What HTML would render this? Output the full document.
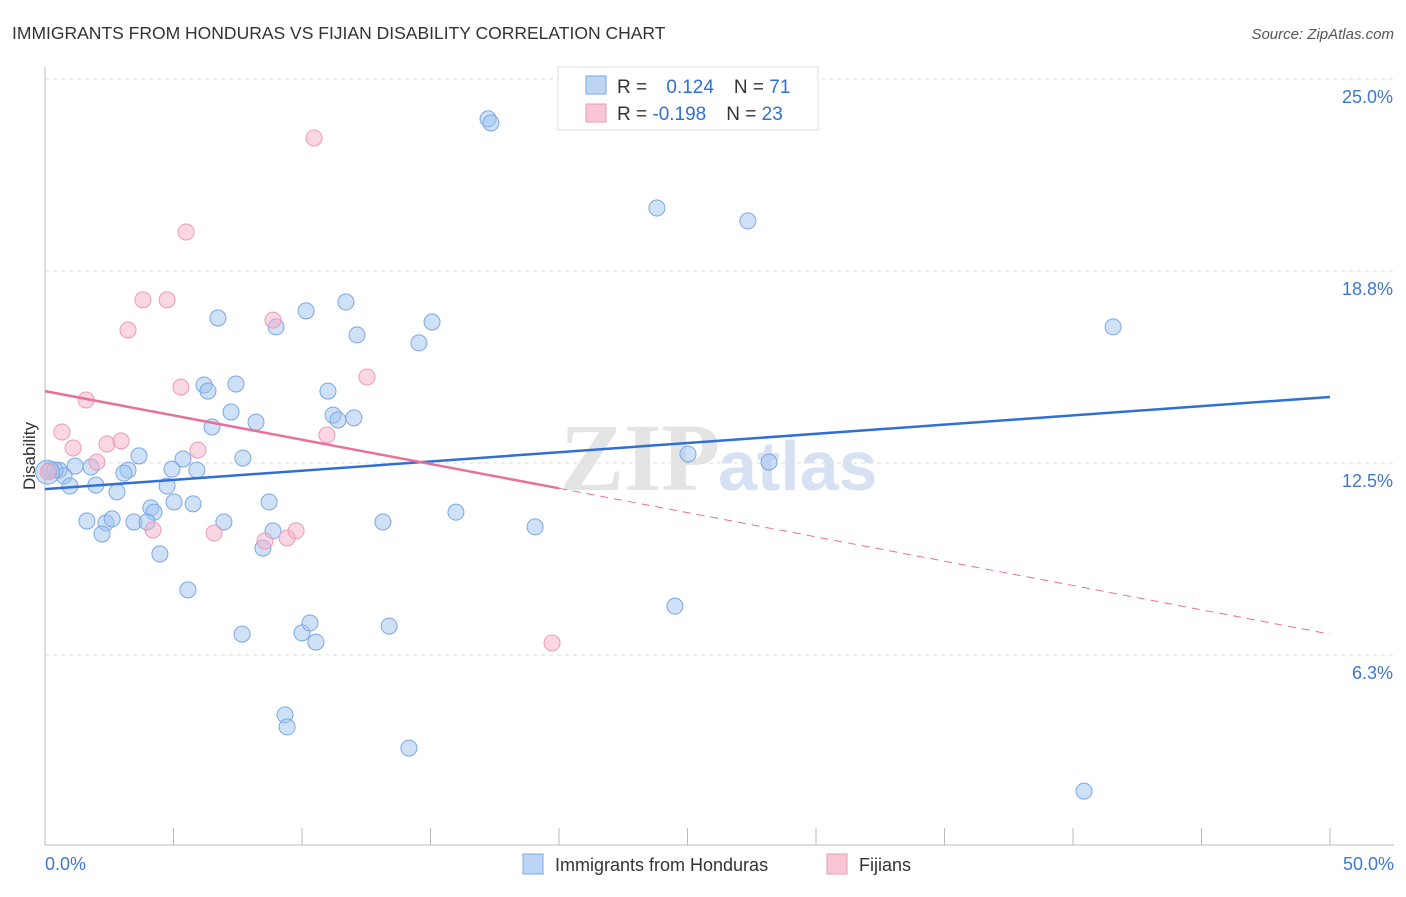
<!DOCTYPE html>
<html><head><meta charset="utf-8"><style>
body{margin:0;background:#fff;font-family:"Liberation Sans",sans-serif;}
</style></head><body>
<svg width="1406" height="892" xmlns="http://www.w3.org/2000/svg" id="chart">
<text x="12" y="39" font-size="17.5" fill="#333">IMMIGRANTS FROM HONDURAS VS FIJIAN DISABILITY CORRELATION CHART</text>
<text x="1394" y="39" font-size="15" fill="#555" font-style="italic" text-anchor="end">Source: ZipAtlas.com</text>
<text x="720" y="490" font-size="96" fill="#e4e4e4" text-anchor="end" font-family="Liberation Serif" font-weight="bold">ZIP</text>
<text x="718" y="490" font-size="70" fill="#d6e2f3" font-weight="bold">atlas</text>
<g id="grid"></g><g id="axes"></g><g id="marks"></g>
<text x="35" y="456" font-size="17" fill="#333" text-anchor="middle" transform="rotate(-90 35 456)">Disability</text>
<g>
<rect x="558" y="67" width="260" height="63" fill="#fff" stroke="#ddd"/>
<rect x="586" y="76" width="20" height="18" fill="#bcd5f5" stroke="#7aa7e6"/>
<rect x="586" y="104" width="20" height="18" fill="#f9c6d6" stroke="#eb9ab5"/>
<text x="617" y="93" font-size="19" fill="#333">R = <tspan fill="#2f6fd6" dx="14">0.124</tspan><tspan dx="20" fill="#333">N = </tspan><tspan fill="#2f6fd6">71</tspan></text>
<text x="617" y="120" font-size="19" fill="#333">R = <tspan fill="#2f6fd6">-0.198</tspan><tspan dx="20" fill="#333">N = </tspan><tspan fill="#2f6fd6">23</tspan></text>
</g>
<g>
<rect x="523" y="854" width="20" height="20" fill="#bcd5f5" stroke="#7aa7e6"/>
<text x="555" y="871" font-size="18" fill="#333">Immigrants from Honduras</text>
<rect x="827" y="854" width="20" height="20" fill="#f9c6d6" stroke="#eb9ab5"/>
<text x="859" y="871" font-size="18" fill="#333">Fijians</text>
</g>
</svg>
<script>
const yTicks=[25.0,18.8,12.5,6.3];
const yTickVals=[25,18.75,12.5,6.25];
const xTickLabels=["0.0%","50.0%"];
const blueX=[17.24,17.35,23.81,27.35,41.56,6.73,8.99,10.16,11.71,12.14,15.06,14.55,6.19,6.34,7.43,11.01,7.24,8.21,6.50,11.21,11.40,12.02,3.66,5.37,7.70,4.94,5.91,3.23,3.07,1.79,1.17,0.54,0.19,0.74,0.97,1.98,2.80,4.75,5.02,5.76,8.72,4.12,4.24,1.63,2.37,2.61,3.46,3.97,6.96,13.15,15.99,19.07,2.22,8.87,8.48,4.47,5.56,7.67,10.00,10.31,10.54,13.39,24.51,25.02,28.17,9.34,9.42,14.16,40.43,0.39,0.1];
const blueY=[23.70,23.57,20.80,20.38,16.93,17.22,16.93,17.45,17.74,16.67,17.09,16.41,15.04,14.84,15.07,14.84,14.16,13.83,13.67,14.06,13.90,13.97,12.73,12.63,12.66,12.30,12.27,12.27,12.17,12.37,12.40,12.27,12.27,12.08,11.75,11.78,11.56,11.75,11.23,11.17,11.23,11.04,10.90,10.61,10.55,10.68,10.58,10.58,10.58,10.58,10.90,10.42,10.19,10.29,9.73,9.54,8.37,6.93,6.97,7.29,6.67,7.19,7.84,12.79,12.53,4.30,3.91,3.22,1.82,12.27,12.2];
const pinkX=[10.47,5.49,3.81,4.75,3.23,8.87,12.53,5.29,1.60,0.66,1.09,2.41,2.96,5.95,10.97,2.02,0.12,4.20,6.58,8.56,9.42,9.77,19.73];
const pinkY=[23.08,20.02,17.81,17.81,16.83,17.15,15.30,14.97,14.55,13.51,12.99,13.12,13.22,12.92,13.41,12.53,12.21,10.32,10.22,9.96,10.06,10.29,6.64];
const blueTrend=[11.65,14.65];
const pinkTrend=[14.84,6.93];
const pinkSolidEnd=20;
const NS="http://www.w3.org/2000/svg";
const xs=v=>45+v*25.7, ys=v=>79+(25-v)*30.72;
function mk(p,tag,a){const e=document.createElementNS(NS,tag);for(const k in a)e.setAttribute(k,a[k]);p.appendChild(e);return e;}
const g=document.getElementById('grid'),ax=document.getElementById('axes'),m=document.getElementById('marks');
yTickVals.forEach((v,i)=>{
 const l=mk(g,'line',{x1:45,x2:1394,y1:ys(v),y2:ys(v),stroke:'#ddd','stroke-dasharray':'4,4'});
 
 
 const t=mk(g,'text',{x:1393,y:ys(v)+24,'font-size':18,fill:'#3a78d4','text-anchor':'end'});
 t.textContent=yTicks[i].toFixed(1)+'%';
 
 
});
mk(ax,'line',{x1:45,x2:45,y1:67,y2:845,stroke:'#bbb'});
mk(ax,'line',{x1:45,x2:1394,y1:845,y2:845,stroke:'#bbb'});
for(let v=0;v<=50;v+=5){const t=mk(ax,'line',{x1:xs(v),x2:xs(v),y1:828,y2:845,stroke:'#bbb'});}
const xl0=mk(ax,'text',{x:45,y:870,'font-size':18,fill:'#3a78d4'});xl0.textContent=xTickLabels[0];


const xl1=mk(ax,'text',{x:1394,y:870,'font-size':18,fill:'#3a78d4','text-anchor':'end'});xl1.textContent=xTickLabels[1];


blueX.forEach((x,i)=>{const c=mk(m,'circle',{cx:xs(x),cy:ys(blueY[i]),r:i==blueX.length-1?12:8,fill:'rgba(160,195,240,0.5)',stroke:'#7aa7e6','stroke-width':1});
 
 });
pinkX.forEach((x,i)=>{const c=mk(m,'circle',{cx:xs(x),cy:ys(pinkY[i]),r:8,fill:'rgba(245,175,200,0.5)',stroke:'#eb9ab5','stroke-width':1});
 
 });
const bl=mk(m,'line',{x1:xs(0),y1:ys(blueTrend[0]),x2:xs(50),y2:ys(blueTrend[1]),stroke:'#2f6fd6','stroke-width':2.5});


const pm=pinkTrend[0]+(pinkTrend[1]-pinkTrend[0])*pinkSolidEnd/50;
const pl=mk(m,'line',{x1:xs(0),y1:ys(pinkTrend[0]),x2:xs(pinkSolidEnd),y2:ys(pm),stroke:'#e8709a','stroke-width':2.5});


const pd=mk(m,'line',{x1:xs(pinkSolidEnd),y1:ys(pm),x2:xs(50),y2:ys(pinkTrend[1]),stroke:'#e8709a','stroke-width':1,'stroke-dasharray':'8,6'});


</script>
</body></html>
